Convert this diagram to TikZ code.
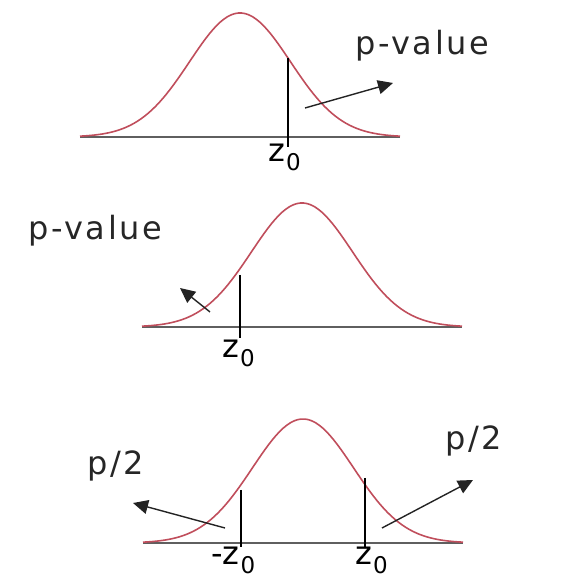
\documentclass[tikz,border=0pt]{standalone}
\usepackage{fontspec}
\newfontfamily\lblfont[LetterSpace=8]{DejaVu Sans}
\newfontfamily\zfont{DejaVu Sans}
\usetikzlibrary{arrows.meta}
\definecolor{bellred}{RGB}{192,78,92}
\definecolor{axisgray}{RGB}{95,95,95}
\definecolor{ptrgray}{RGB}{35,35,35}
% z with a lowered 0
\newcommand{\zlab}[1]{\zfont\fontsize{32}{36}\selectfont #1z\kern1pt\raisebox{-9pt}{\fontsize{23}{23}\selectfont 0}}
\tikzset{
  bell/.style={bellred, line width=1.6pt, line join=round},
  axis/.style={axisgray, line width=2pt},
  zline/.style={black, line width=1.4pt},
  ptr/.style={ptrgray, line width=1.4pt, -{Triangle[length=15pt,width=14pt]}},
  lbl/.style={font=\lblfont\fontsize{32}{36}\selectfont, text=black!85, inner sep=0pt},
}
\begin{document}
\begin{tikzpicture}[x=1pt,y=1pt]
\useasboundingbox (0,0) rectangle (583,580);
% three bell curves on their axes
\foreach \m/\b/\n in {240/443/top,302/253/mid,303/37/bot} {
  \draw[axis] ({\m-160},\b) -- ({\m+160},\b);
  \draw[bell] plot[domain=-160:160, samples=90] ({\m+\x},{\b+124*exp(-0.5*(\x/50.5)^2)});
}
% upper tail
\coordinate (ta) at (288,522);
\coordinate (tb) at (288,433);
\draw[zline] (ta) -- (tb);
\node[anchor=base west, inner sep=0pt] (tz) at (268,418) {\zlab{}};
\node[lbl, anchor=base west] (tp) at (355,525) {p-value};
\coordinate (tf) at (305,472);
\coordinate (tt) at (393,497);
\draw[ptr] (tf) -- (tt);
% lower tail
\coordinate (ma) at (240,305);
\coordinate (mb) at (240,242);
\draw[zline] (ma) -- (mb);
\node[anchor=base west, inner sep=0pt] (mz) at (222,222) {\zlab{}};
\node[lbl, anchor=base west] (mp) at (28,340) {p-value};
\coordinate (mf) at (210,268);
\coordinate (mt) at (180,292);
\draw[ptr] (mf) -- (mt);
% two tails
\coordinate (la) at (241,90);
\coordinate (lb) at (241,33);
\coordinate (ra) at (365,102);
\coordinate (rb) at (365,33);
\draw[zline] (la) -- (lb);
\draw[zline] (ra) -- (rb);
\node[anchor=base west, inner sep=0pt] (lz) at (211,15) {\zlab{-}};
\node[anchor=base west, inner sep=0pt] (rz) at (355,15) {\zlab{}};
\node[lbl, anchor=base west] (lp) at (87,105) {p/2};
\node[lbl, anchor=base west] (rp) at (445,130) {p/2};
\coordinate (lf) at (225,52);
\coordinate (lt) at (133,77);
\coordinate (rf) at (382,52);
\coordinate (rt) at (473,100);
\draw[ptr] (lf) -- (lt);
\draw[ptr] (rf) -- (rt);
\end{tikzpicture}
\end{document}
